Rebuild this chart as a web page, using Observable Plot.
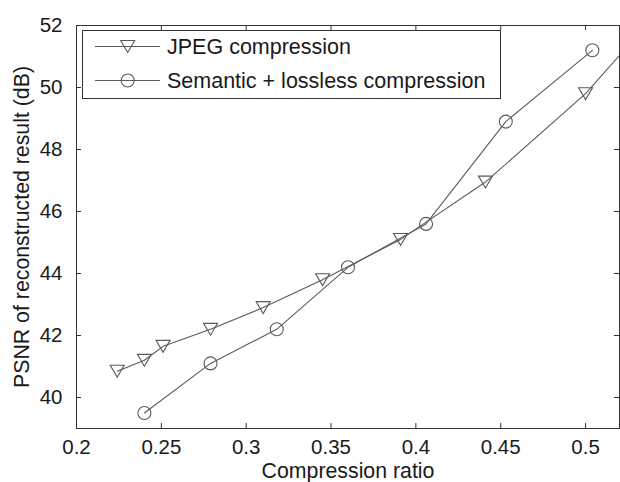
<!DOCTYPE html>
<html><head><meta charset="utf-8">
<script src="https://cdn.jsdelivr.net/npm/d3@7"></script>
<script src="https://cdn.jsdelivr.net/npm/@observablehq/plot@0.6"></script>
<style>html,body{margin:0;padding:0;background:#fff}</style>
</head><body><div id="chart"></div>
<script>
// ---- data ----
const jpegRatio = [0.224, 0.240, 0.251, 0.279, 0.310, 0.345, 0.391, 0.441, 0.500, 0.560];
const jpegPsnr  = [40.85, 41.2, 41.65, 42.2, 42.9, 43.8, 45.1, 46.95, 49.8, 53.5];
const semRatio  = [0.240, 0.279, 0.318, 0.360, 0.406, 0.453, 0.504];
const semPsnr   = [39.5, 41.1, 42.2, 44.2, 45.6, 48.9, 51.2];
const xTicks = [0.2, 0.25, 0.3, 0.35, 0.4, 0.45, 0.5];
const yTicks = [40, 42, 44, 46, 48, 50, 52];
const seriesNames = ["JPEG compression", "Semantic + lossless compression"];
const xLabel = "Compression ratio";
const yLabel = "PSNR of reconstructed result (dB)";

const jpeg = jpegRatio.map((x, i) => ({x, y: jpegPsnr[i]}));
const sem = semRatio.map((x, i) => ({x, y: semPsnr[i]}));

const W = 620, H = 482;
const mL = 76, mR = 1, mT = 25, mB = 54;
const innerW = W - mL - mR, innerH = H - mT - mB;
const FONT = "'Liberation Sans', Arial, Helvetica, sans-serif";
const lineColor = "#5a5a5a";
const axisColor = "#333";
const textColor = "#1a1a1a";

const triDown = {
  draw(ctx, size) {
    const r = Math.sqrt(size / Math.PI);
    ctx.moveTo(-r, -r * 0.85);
    ctx.lineTo(r, -r * 0.85);
    ctx.lineTo(0, r * 0.85);
    ctx.closePath();
  }
};

function legend(index, scales, values, dims) {
  const g = d3.create("svg:g").attr("font-family", FONT);
  g.append("rect").attr("x", 82.5).attr("y", 30.5).attr("width", 418).attr("height", 68)
    .attr("fill", "white").attr("stroke", axisColor).attr("stroke-width", 1);
  const rows = [46.5, 80.5];
  const syms = [d3.symbol(triDown, Math.PI * 49)(), d3.symbol(d3.symbolCircle, Math.PI * 42)()];
  seriesNames.forEach((name, i) => {
    const y = rows[i];
    g.append("line").attr("x1", 95).attr("x2", 160).attr("y1", y).attr("y2", y)
      .attr("stroke", lineColor).attr("stroke-width", 1.1);
    g.append("path").attr("d", syms[i]).attr("transform", `translate(127.7,${y})`)
      .attr("fill", "none").attr("stroke", lineColor).attr("stroke-width", 1.1);
    g.append("text").attr("x", 167).attr("y", y).attr("dy", "0.35em")
      .attr("text-anchor", "start")
      .attr("font-size", 21.5).attr("fill", textColor).text(name);
  });
  return g.node();
}

const chart = Plot.plot({
  width: W, height: H,
  marginLeft: mL, marginRight: mR, marginTop: mT, marginBottom: mB,
  style: {fontFamily: FONT, background: "white", color: textColor},
  x: {domain: [0.2, 0.52], axis: null},
  y: {domain: [39, 52], axis: null},
  marks: [
    // lines and markers
    Plot.line(jpeg, {x: "x", y: "y", stroke: lineColor, strokeWidth: 1.1, clip: true}),
    Plot.line(sem, {x: "x", y: "y", stroke: lineColor, strokeWidth: 1.1, clip: true}),
    Plot.dot(jpeg, {x: "x", y: "y", symbol: triDown, r: 7, stroke: lineColor, strokeWidth: 1.1, fill: "none", clip: true}),
    Plot.dot(sem, {x: "x", y: "y", symbol: "circle", r: 6.5, stroke: lineColor, strokeWidth: 1.1, fill: "none", clip: true}),
    // inward ticks (bottom, top, left, right)
    Plot.tickX(xTicks, {x: d => d, stroke: axisColor, insetTop: innerH - 5}),
    Plot.tickX(xTicks, {x: d => d, stroke: axisColor, insetBottom: innerH - 5}),
    Plot.tickY(yTicks, {y: d => d, stroke: axisColor, insetRight: innerW - 5}),
    Plot.tickY(yTicks, {y: d => d, stroke: axisColor, insetLeft: innerW - 5}),
    Plot.frame({stroke: axisColor, strokeWidth: 1}),
    // tick labels
    Plot.axisX(xTicks, {tickSize: 0, tickPadding: 11, fontSize: 20.5, tickFormat: d => String(d), label: null, fill: textColor}),
    Plot.axisY(yTicks, {tickSize: 0, tickPadding: 14, fontSize: 20.5, tickFormat: d => String(d), label: null, fill: textColor}),
    // axis titles
    Plot.text([xLabel], {frameAnchor: "bottom", dy: 42.5, lineAnchor: "middle", textAnchor: "middle", fontSize: 21.3, fill: textColor}),
    Plot.text([yLabel], {frameAnchor: "left", dx: -54, rotate: -90, lineAnchor: "middle", textAnchor: "middle", fontSize: 21.3, fill: textColor}),
    legend
  ]
});
document.getElementById("chart").appendChild(chart);
</script>
</body></html>
